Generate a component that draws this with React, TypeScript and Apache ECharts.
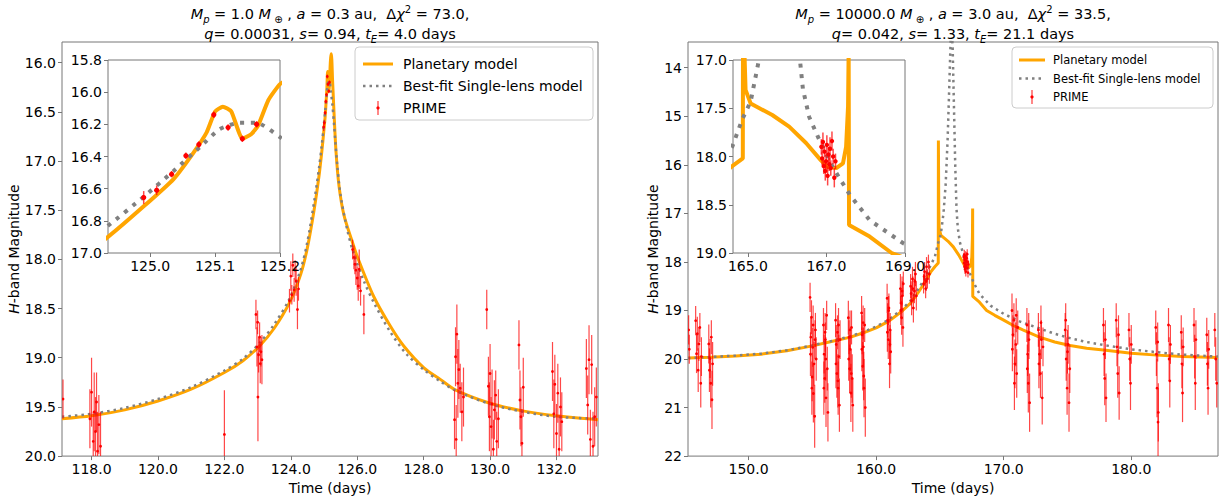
import React, { useEffect, useRef } from 'react';
import * as echarts from 'echarts';

const FONT = 'DejaVu Sans';
const ORANGE = '#FFA500';
const GRAY = '#808080';
const FRAME = '#777777';

// ---------- Left panel ----------
const leftXTicks = [118, 120, 122, 124, 126, 128, 130, 132];
const leftYTicks = [16.0, 16.5, 17.0, 17.5, 18.0, 18.5, 19.0, 19.5, 20.0];
const leftInsetXTicks = [125.0, 125.1, 125.2];
const leftInsetYTicks = [15.8, 16.0, 16.2, 16.4, 16.6, 16.8, 17.0];

const leftPlanetT = [117.11, 118, 119, 120, 121, 122, 122.56, 123.06, 123.5, 123.96, 124.3, 124.5, 124.7, 124.85, 124.935, 124.99, 125.036, 125.066, 125.087, 125.1, 125.112, 125.125, 125.142, 125.156, 125.166, 125.182, 125.2, 125.22, 125.26, 125.3, 125.36, 125.45, 125.6, 125.85, 126.0, 126.5, 127.0, 127.4, 128.0, 128.5, 128.97, 129.97, 130.98, 131.98, 133.25];
const leftPlanetM = [19.62, 19.59, 19.53, 19.44, 19.32, 19.15, 19.03, 18.88, 18.7, 18.44, 18.15, 17.88, 17.5, 17.15, 16.9, 16.71, 16.54, 16.38, 16.25, 16.12, 16.09, 16.12, 16.29, 16.26, 16.21, 16.05, 15.95, 15.91, 16.2, 16.5, 16.9, 17.25, 17.55, 17.82, 17.97, 18.38, 18.68, 18.88, 19.1, 19.22, 19.33, 19.46, 19.54, 19.59, 19.63];

const leftSingleT = [117.11, 118, 119, 120, 121, 122, 122.56, 123.06, 123.5, 123.96, 124.3, 124.5, 124.7, 124.85, 124.935, 124.99, 125.036, 125.077, 125.107, 125.138, 125.164, 125.2, 125.25, 125.3, 125.4, 125.5, 125.7, 125.9, 126.2, 126.5, 127.0, 127.5, 128.0, 128.5, 129, 130, 131, 132, 133.25];
const leftSingleM = [19.6, 19.57, 19.51, 19.42, 19.3, 19.13, 19.01, 18.85, 18.66, 18.4, 18.1, 17.82, 17.42, 17.07, 16.83, 16.65, 16.49, 16.34, 16.23, 16.19, 16.19, 16.28, 16.42, 16.62, 17.05, 17.35, 17.7, 17.95, 18.22, 18.44, 18.74, 18.97, 19.12, 19.24, 19.34, 19.47, 19.55, 19.6, 19.62];

// PRIME points: [time, magnitude, error]
const primeLeft: number[][] = [
  [117.14, 19.42, 0.2],
  [117.95, 19.62, 0.3], [118.0, 19.35, 0.35], [118.05, 19.85, 0.3], [118.08, 19.55, 0.4], [118.12, 19.75, 0.35], [118.15, 19.45, 0.3], [118.18, 19.95, 0.4], [118.22, 19.68, 0.3], [118.27, 19.9, 0.35],
  [122.0, 19.78, 0.45],
  [122.95, 18.56, 0.15], [122.98, 18.89, 0.2], [123.0, 18.64, 0.12], [123.01, 19.4, 0.45], [123.03, 18.97, 0.18], [123.06, 18.79, 0.15], [123.08, 19.06, 0.2], [123.1, 18.94, 0.15], [123.13, 19.02, 0.25],
  [123.96, 18.42, 0.12], [124.0, 18.17, 0.15], [124.03, 18.36, 0.1], [124.06, 18.06, 0.12], [124.1, 18.31, 0.12], [124.13, 18.11, 0.1], [124.16, 18.22, 0.15], [124.2, 18.51, 0.2], [124.23, 18.3, 0.12],
  [124.99, 16.655, 0.04], [125.01, 16.61, 0.03], [125.033, 16.51, 0.02], [125.055, 16.395, 0.02], [125.075, 16.325, 0.02], [125.098, 16.14, 0.02], [125.12, 16.22, 0.02], [125.142, 16.29, 0.02], [125.164, 16.2, 0.02],
  [125.86, 17.9, 0.1], [125.9, 17.98, 0.12], [125.93, 18.05, 0.1], [125.96, 18.11, 0.15], [126.0, 18.19, 0.12], [126.03, 18.27, 0.15], [126.06, 18.1, 0.2], [126.1, 18.32, 0.15], [126.2, 18.56, 0.2],
  [128.93, 19.63, 0.3], [128.96, 18.99, 0.3], [128.98, 19.83, 0.35], [129.0, 18.76, 0.3], [129.03, 19.26, 0.35], [129.06, 19.12, 0.3], [129.1, 19.31, 0.25], [129.15, 19.55, 0.3], [129.2, 19.4, 0.3],
  [129.9, 18.51, 0.2],
  [129.95, 19.29, 0.3], [129.98, 19.6, 0.35], [130.0, 19.16, 0.3], [130.03, 19.7, 0.3], [130.06, 19.47, 0.35], [130.1, 19.93, 0.3], [130.13, 19.53, 0.3], [130.17, 19.38, 0.25], [130.2, 19.85, 0.3], [130.25, 19.62, 0.3],
  [130.87, 18.87, 0.25], [130.9, 19.43, 0.3], [130.93, 19.6, 0.3], [130.96, 19.87, 0.35], [131.0, 19.3, 0.3],
  [131.88, 19.14, 0.3], [131.92, 19.57, 0.35], [131.95, 19.27, 0.3], [132.0, 19.77, 0.3], [132.04, 19.36, 0.3], [132.08, 19.93, 0.35], [132.12, 19.5, 0.3], [132.16, 19.65, 0.3],
  [132.9, 19.11, 0.3], [132.94, 19.48, 0.3], [132.98, 19.02, 0.35], [133.02, 19.83, 0.3], [133.06, 19.07, 0.3], [133.1, 19.9, 0.35], [133.15, 19.6, 0.3], [133.2, 19.4, 0.3],
];

// ---------- Right panel ----------
const rightXTicks = [150, 160, 170, 180];
const rightYTicks = [14, 15, 16, 17, 18, 19, 20, 21, 22];
const rightInsetXTicks = [165, 167, 169];
const rightInsetYTicks = [17.0, 17.5, 18.0, 18.5, 19.0];

const rightPlanetT = [145.25, 147, 149, 151, 153, 155, 156.5, 158, 159, 160, 161, 162, 162.7, 163.3, 163.8, 164.3, 164.6, 164.87, 164.88, 164.91, 164.94, 165.07, 165.2, 165.62, 166.05, 166.48, 166.86, 167.03, 167.25, 167.42, 167.5, 167.55, 167.565, 167.575, 168.1, 168.66, 169.3, 170, 170.75, 171.5, 172.8, 174, 175.2, 176.5, 178, 180, 182, 184, 186.8];
const rightPlanetM = [19.98, 19.965, 19.94, 19.9, 19.83, 19.73, 19.64, 19.55, 19.46, 19.36, 19.22, 19.02, 18.85, 18.63, 18.43, 18.2, 18.1, 18.02, 15.5, 16.9, 17.31, 17.45, 17.48, 17.57, 17.69, 17.86, 18.04, 18.11, 18.12, 18.07, 17.9, 17.48, 16.9, 18.71, 18.83, 19.0, 19.1, 19.2, 19.31, 19.4, 19.55, 19.65, 19.72, 19.78, 19.82, 19.88, 19.92, 19.95, 19.97];

const rightSingleT = [145.25, 147, 149, 151, 153, 155, 156.5, 158, 159, 160, 161, 162, 162.7, 163.3, 163.8, 164.25, 164.6, 164.85, 165.07, 165.28, 165.45, 165.6, 165.72, 165.82, 165.9, 166.0, 166.1, 166.2, 166.3, 166.4, 166.56, 166.82, 167.16, 167.6, 168.1, 168.96, 170, 171.3, 172.8, 174, 175.2, 176.5, 178, 180, 182, 184, 186.8];
const rightSingleM = [19.98, 19.96, 19.93, 19.89, 19.82, 19.72, 19.63, 19.53, 19.44, 19.33, 19.19, 18.98, 18.8, 18.56, 18.35, 18.08, 17.9, 17.62, 17.43, 17.0, 16.4, 15.5, 14.5, 13.6, 13.0, 13.6, 14.8, 16.0, 16.9, 17.3, 17.59, 17.83, 18.11, 18.4, 18.66, 18.9, 19.07, 19.23, 19.37, 19.48, 19.57, 19.65, 19.72, 19.8, 19.86, 19.91, 19.95];

const primeRight: number[][] = [
  [145.3, 19.4, 0.3], [145.35, 19.8, 0.3],
  [145.85, 19.21, 0.3], [145.92, 19.89, 0.4], [145.98, 19.48, 0.35], [146.05, 20.23, 0.45], [146.1, 19.69, 0.35], [146.18, 19.35, 0.3], [146.25, 20.5, 0.5], [146.3, 19.95, 0.4],
  [146.88, 19.69, 0.4], [146.93, 20.23, 0.45], [146.98, 19.99, 0.4], [147.03, 20.5, 0.5], [147.08, 19.55, 0.35], [147.13, 20.84, 0.6], [147.18, 20.1, 0.45],
  [154.82, 18.73, 0.3], [154.85, 19.9, 0.45], [154.88, 19.55, 0.4], [154.93, 19.14, 0.35], [154.96, 20.6, 0.55], [154.98, 20.37, 0.5], [155.03, 19.76, 0.4], [155.06, 19.3, 0.4], [155.08, 20.71, 0.6], [155.13, 20.1, 0.45], [155.18, 21.18, 0.65], [155.21, 19.6, 0.4], [155.24, 19.4, 0.35], [155.3, 20.0, 0.45],
  [155.87, 19.3, 0.35], [155.9, 20.6, 0.55], [155.92, 19.9, 0.4], [155.97, 20.4, 0.5], [156.0, 19.45, 0.4], [156.02, 19.6, 0.35], [156.05, 20.0, 0.45], [156.07, 20.8, 0.6], [156.12, 19.1, 0.3], [156.17, 20.2, 0.45], [156.22, 21.1, 0.6],
  [156.82, 19.2, 0.35], [156.85, 20.1, 0.5], [156.87, 19.7, 0.4], [156.92, 20.3, 0.5], [156.97, 19.45, 0.35], [157.0, 20.45, 0.55], [157.02, 20.6, 0.55], [157.05, 19.3, 0.35], [157.07, 19.95, 0.45], [157.12, 20.95, 0.55], [157.17, 19.6, 0.4],
  [157.82, 19.15, 0.35], [157.85, 20.0, 0.45], [157.87, 19.55, 0.35], [157.92, 20.2, 0.5], [157.95, 19.4, 0.4], [157.97, 19.8, 0.45], [158.02, 20.7, 0.6], [158.05, 20.3, 0.5], [158.07, 19.35, 0.35], [158.12, 20.4, 0.5], [158.17, 20.95, 0.55],
  [158.86, 19.05, 0.35], [158.88, 19.8, 0.45], [158.9, 19.5, 0.4], [158.95, 20.15, 0.5], [158.98, 19.25, 0.35], [159.0, 19.75, 0.4], [159.03, 20.35, 0.5], [159.05, 20.6, 0.6], [159.1, 19.3, 0.35], [159.15, 21.0, 0.6],
  [160.86, 18.75, 0.3], [160.88, 19.45, 0.4], [160.9, 19.2, 0.35], [160.95, 19.6, 0.4], [160.98, 19.0, 0.3], [161.0, 18.95, 0.3], [161.05, 20.1, 0.5], [161.08, 19.7, 0.4], [161.1, 19.4, 0.35], [161.14, 19.85, 0.45],
  [161.9, 18.55, 0.3], [161.93, 19.0, 0.3], [161.95, 18.85, 0.3], [162.0, 19.15, 0.35], [162.03, 18.6, 0.3], [162.05, 18.7, 0.3], [162.1, 19.35, 0.4], [162.13, 18.45, 0.25],
  [162.7, 18.5, 0.25], [162.74, 18.65, 0.25], [162.78, 18.8, 0.3], [162.85, 18.35, 0.25], [162.88, 18.55, 0.25], [162.92, 18.95, 0.3], [163.0, 18.6, 0.25], [163.04, 18.4, 0.25], [163.08, 18.25, 0.25], [163.15, 18.7, 0.3],
  [163.72, 18.45, 0.2], [163.76, 18.3, 0.2], [163.8, 18.2, 0.2], [163.88, 18.55, 0.2], [163.92, 18.4, 0.2], [163.95, 18.1, 0.2], [164.02, 18.35, 0.2], [164.1, 18.0, 0.15], [164.17, 18.25, 0.2],
  [166.87, 17.9, 0.08], [166.89, 18.02, 0.07], [166.91, 17.85, 0.1], [166.93, 18.1, 0.08], [166.95, 17.95, 0.06], [166.97, 18.15, 0.1], [166.99, 18.05, 0.08], [167.01, 17.88, 0.1], [167.03, 18.2, 0.1], [167.05, 17.98, 0.08], [167.07, 18.08, 0.07], [167.09, 17.92, 0.12], [167.11, 18.12, 0.08], [167.14, 17.84, 0.1], [167.17, 18.0, 0.08], [167.2, 18.22, 0.1], [167.23, 18.05, 0.08],
  [170.65, 19.0, 0.35], [170.68, 19.8, 0.45], [170.72, 19.5, 0.4], [170.8, 19.2, 0.35], [170.84, 20.5, 0.55], [170.88, 20.1, 0.5], [170.95, 19.7, 0.45], [170.98, 19.1, 0.35], [171.02, 20.3, 0.5], [171.1, 19.35, 0.35],
  [171.82, 19.3, 0.35], [171.85, 20.2, 0.5], [171.88, 19.9, 0.45], [171.93, 20.5, 0.6], [171.96, 19.45, 0.4], [171.98, 19.6, 0.4], [172.03, 20.9, 0.6],
  [172.72, 19.4, 0.35], [172.76, 20.1, 0.5], [172.8, 19.9, 0.45], [172.88, 20.3, 0.5], [172.92, 19.25, 0.35], [172.95, 19.6, 0.4], [173.02, 20.8, 0.55], [173.08, 19.75, 0.4],
  [174.82, 19.4, 0.35], [174.86, 19.2, 0.35], [174.9, 20.0, 0.45], [174.97, 20.6, 0.55], [175.0, 19.85, 0.45], [175.05, 19.7, 0.4], [175.12, 20.9, 0.6], [175.18, 20.2, 0.5],
  [177.82, 19.3, 0.35], [177.87, 19.9, 0.45], [177.92, 20.4, 0.55], [177.97, 19.6, 0.4], [178.02, 20.8, 0.5],
  [178.82, 19.2, 0.35], [178.88, 19.75, 0.4], [178.94, 20.3, 0.5], [179.0, 19.5, 0.4], [179.05, 20.7, 0.55],
  [179.82, 19.4, 0.35], [179.88, 20.0, 0.45], [179.94, 20.5, 0.55], [180.0, 19.7, 0.4],
  [181.92, 19.35, 0.35], [181.97, 19.9, 0.45], [182.02, 20.6, 0.6], [182.07, 19.65, 0.4], [182.1, 21.3, 0.7], [182.12, 21.1, 0.6],
  [182.92, 19.3, 0.35], [182.97, 20.0, 0.45], [183.02, 20.45, 0.55], [183.07, 19.7, 0.4],
  [183.92, 19.45, 0.35], [183.97, 20.1, 0.5], [184.02, 20.7, 0.6], [184.07, 19.75, 0.4],
  [184.92, 19.3, 0.35], [184.97, 19.95, 0.45], [185.02, 20.5, 0.55], [185.07, 19.6, 0.4],
  [185.92, 19.5, 0.35], [185.97, 20.1, 0.45], [186.02, 20.6, 0.55], [186.07, 19.8, 0.4],
  [186.55, 19.4, 0.35], [186.62, 20.0, 0.45], [186.7, 20.5, 0.5],
];

const seriesNames = ['Planetary model', 'Best-fit Single-lens model', 'PRIME'];

const leftTitle = '{i|M}{subi|p} = 1.0 {i|M}{sub| ⊕} , {i|a} = 0.3 au,  Δ{i|χ}{sup|2} = 73.0,\n{i|q}= 0.00031, {i|s}= 0.94, {i|t}{subi|E}= 4.0 days';
const rightTitle = '{i|M}{subi|p} = 10000.0 {i|M}{sub| ⊕} , {i|a} = 3.0 au,  Δ{i|χ}{sup|2} = 33.5,\n{i|q}= 0.042, {i|s}= 1.33, {i|t}{subi|E}= 21.1 days';

function pairs(t: number[], m: number[]) {
  return t.map((v, i) => [v, m[i]]);
}

function xAxisCfg(gridIndex: number, min: number, max: number, ticks: number[], fmt: (v: number) => string, withName: boolean, z: number) {
  return {
    type: 'value', gridIndex, min, max, z,
    axisLine: { show: false },
    splitLine: { show: false },
    axisTick: { show: true, customValues: ticks, length: 4, lineStyle: { color: FRAME } },
    axisLabel: { customValues: ticks, formatter: (v: number) => fmt(v), color: '#000', fontSize: 14, fontFamily: FONT, margin: 6 },
    name: withName ? 'Time (days)' : '',
    nameLocation: 'middle', nameGap: 20,
    nameTextStyle: { color: '#000', fontSize: 14, fontFamily: FONT },
  };
}

function yAxisCfg(gridIndex: number, min: number, max: number, ticks: number[], fmt: (v: number) => string, nameGap: number | null, z: number) {
  return {
    type: 'value', gridIndex, min, max, inverse: true, z,
    axisLine: { show: false },
    splitLine: { show: false },
    axisTick: { show: true, customValues: ticks, length: 4, lineStyle: { color: FRAME } },
    axisLabel: { customValues: ticks, formatter: (v: number) => fmt(v), color: '#000', fontSize: 14, fontFamily: FONT, margin: 6 },
    name: nameGap !== null ? '{i|H}-band Magnitude' : '',
    nameLocation: 'middle', nameGap: nameGap ?? 0,
    nameTextStyle: { color: '#000', fontSize: 14, fontFamily: FONT, rich: { i: { fontStyle: 'italic', fontSize: 14, fontFamily: FONT, color: '#000' } } },
  };
}

function lineSeries(name: string, idx: number, data: number[][], color: string, width: number, dash: number[] | null, z: number, smooth: number) {
  return {
    type: 'line', name, xAxisIndex: idx, yAxisIndex: idx, data, z,
    symbol: 'none', showSymbol: false, clip: true, smooth,
    lineStyle: { color, width, type: dash ? dash : 'solid', cap: 'butt' },
    silent: true,
  };
}

function errSeries(idx: number, data: number[][], r: number, barWidth: number, z: number) {
  return {
    type: 'custom', name: 'PRIME', xAxisIndex: idx, yAxisIndex: idx, data, z, clip: true, silent: true,
    encode: { x: 0, y: 1 },
    renderItem: (_p: any, api: any) => {
      const t = api.value(0), m = api.value(1), e = api.value(2);
      const c = api.coord([t, m]);
      const a = api.coord([t, m - e]);
      const b = api.coord([t, m + e]);
      return {
        type: 'group',
        children: [
          { type: 'line', shape: { x1: a[0], y1: a[1], x2: b[0], y2: b[1] }, style: { stroke: 'rgba(255,0,0,0.72)', lineWidth: barWidth } },
          { type: 'circle', shape: { cx: c[0], cy: c[1], r }, style: { fill: '#ff0000' } },
        ],
      };
    },
  };
}

const richTitle = {
  i: { fontStyle: 'italic', fontSize: 14.5, fontFamily: FONT, fill: '#000', lineHeight: 20 },
  sub: { fontSize: 10, fontFamily: FONT, fill: '#000', lineHeight: 12, verticalAlign: 'bottom' },
  subi: { fontSize: 10, fontStyle: 'italic', fontFamily: FONT, fill: '#000', lineHeight: 12, verticalAlign: 'bottom' },
  sup: { fontSize: 10, fontFamily: FONT, fill: '#000', lineHeight: 12, verticalAlign: 'top' },
};

function legendGraphic(x: number, y: number, w: number, h: number, rows: number[], lineX: number, lineLen: number, textX: number, fontSize: number) {
  const els: any[] = [
    { type: 'rect', shape: { x, y, width: w, height: h, r: 4 }, style: { fill: '#fff', stroke: '#cccccc', lineWidth: 1 }, z: 100 },
    { type: 'line', shape: { x1: lineX, y1: rows[0], x2: lineX + lineLen, y2: rows[0] }, style: { stroke: ORANGE, lineWidth: 3 }, z: 101 },
    { type: 'line', shape: { x1: lineX, y1: rows[1], x2: lineX + lineLen, y2: rows[1] }, style: { stroke: GRAY, lineWidth: 2.5, lineDash: [2.5, 4] }, z: 101 },
    { type: 'line', shape: { x1: lineX + lineLen / 2, y1: rows[2] - 7, x2: lineX + lineLen / 2, y2: rows[2] + 7 }, style: { stroke: 'rgba(255,0,0,0.72)', lineWidth: 1.3 }, z: 101 },
    { type: 'circle', shape: { cx: lineX + lineLen / 2, cy: rows[2], r: 1.6 }, style: { fill: '#ff0000' }, z: 102 },
  ];
  seriesNames.forEach((n, i) => {
    els.push({ type: 'text', x: textX, y: rows[i], style: { text: n, fontSize, fontFamily: FONT, fill: '#000', align: 'left', verticalAlign: 'middle' }, z: 101 });
  });
  return els;
}

function buildOption() {
  const f1 = (v: number) => v.toFixed(1);
  const f0 = (v: number) => v.toFixed(0);
  const gridBase = { show: true, borderColor: FRAME, borderWidth: 1, backgroundColor: '#fff' };
  const lp = pairs(leftPlanetT, leftPlanetM);
  const ls = pairs(leftSingleT, leftSingleM);
  const rp = pairs(rightPlanetT, rightPlanetM);
  const rs = pairs(rightSingleT, rightSingleM);
  return {
    animation: false,
    backgroundColor: '#fff',
    textStyle: { fontFamily: FONT },
    grid: [
      { ...gridBase, left: 62, top: 42, width: 536, height: 418, z: 0 },
      { ...gridBase, left: 108, top: 60, width: 172, height: 193, z: 5 },
      { ...gridBase, left: 688, top: 42, width: 530, height: 418, z: 0 },
      { ...gridBase, left: 733, top: 60, width: 172, height: 193, z: 5 },
    ],
    xAxis: [
      xAxisCfg(0, 117.11, 133.25, leftXTicks, f1, true, 1),
      xAxisCfg(1, 124.935, 125.2, leftInsetXTicks, f1, false, 6),
      xAxisCfg(2, 145.25, 186.8, rightXTicks, f1, true, 1),
      xAxisCfg(3, 164.62, 169.0, rightInsetXTicks, f1, false, 6),
    ],
    yAxis: [
      yAxisCfg(0, 15.79, 20.0, leftYTicks, f1, 34, 1),
      yAxisCfg(1, 15.8, 17.0, leftInsetYTicks, f1, null, 6),
      yAxisCfg(2, 13.47, 22.0, rightYTicks, f0, 25, 1),
      yAxisCfg(3, 17.0, 19.0, rightInsetYTicks, f1, null, 6),
    ],
    series: [
      lineSeries(seriesNames[0], 0, lp, ORANGE, 3, null, 2, 0.3),
      lineSeries(seriesNames[1], 0, ls, GRAY, 2.5, [2.5, 4], 3, 0.3),
      errSeries(0, primeLeft, 1.4, 1.2, 4),
      lineSeries(seriesNames[0], 1, lp, ORANGE, 4, null, 7, 0.15),
      lineSeries(seriesNames[1], 1, ls, GRAY, 4, [4, 6.6], 8, 0.2),
      errSeries(1, primeLeft, 2.6, 1.5, 9),
      lineSeries(seriesNames[0], 2, rp, ORANGE, 3, null, 2, 0),
      lineSeries(seriesNames[1], 2, rs, GRAY, 2.5, [2.5, 4], 3, 0),
      errSeries(2, primeRight, 1.4, 1.2, 4),
      lineSeries(seriesNames[0], 3, rp, ORANGE, 4, null, 7, 0),
      lineSeries(seriesNames[1], 3, rs, GRAY, 4, [4, 6.6], 8, 0),
      errSeries(3, primeRight, 2.2, 1.5, 9),
    ],
    graphic: [
      { type: 'text', x: 330, y: 4, z: 100, style: { text: leftTitle, align: 'center', verticalAlign: 'top', fontSize: 14.5, fontFamily: FONT, fill: '#000', lineHeight: 20, rich: richTitle } },
      { type: 'text', x: 953, y: 4, z: 100, style: { text: rightTitle, align: 'center', verticalAlign: 'top', fontSize: 14.5, fontFamily: FONT, fill: '#000', lineHeight: 20, rich: richTitle } },
      ...legendGraphic(355, 47, 238, 73, [64, 86, 108], 363, 30, 403, 14),
      ...legendGraphic(1012, 47, 201, 61, [60, 78.5, 97], 1019, 26, 1053, 11.5),
    ],
  };
}

export default function App() {
  const ref = useRef<HTMLDivElement>(null);
  useEffect(() => {
    const chart = echarts.init(ref.current as HTMLDivElement, null, { renderer: 'svg' });
    chart.setOption(buildOption() as any);
    return () => chart.dispose();
  }, []);
  return <div ref={ref} style={{ position: 'fixed', left: 0, top: 0, width: 1220, height: 500, background: '#fff' }} />;
}
